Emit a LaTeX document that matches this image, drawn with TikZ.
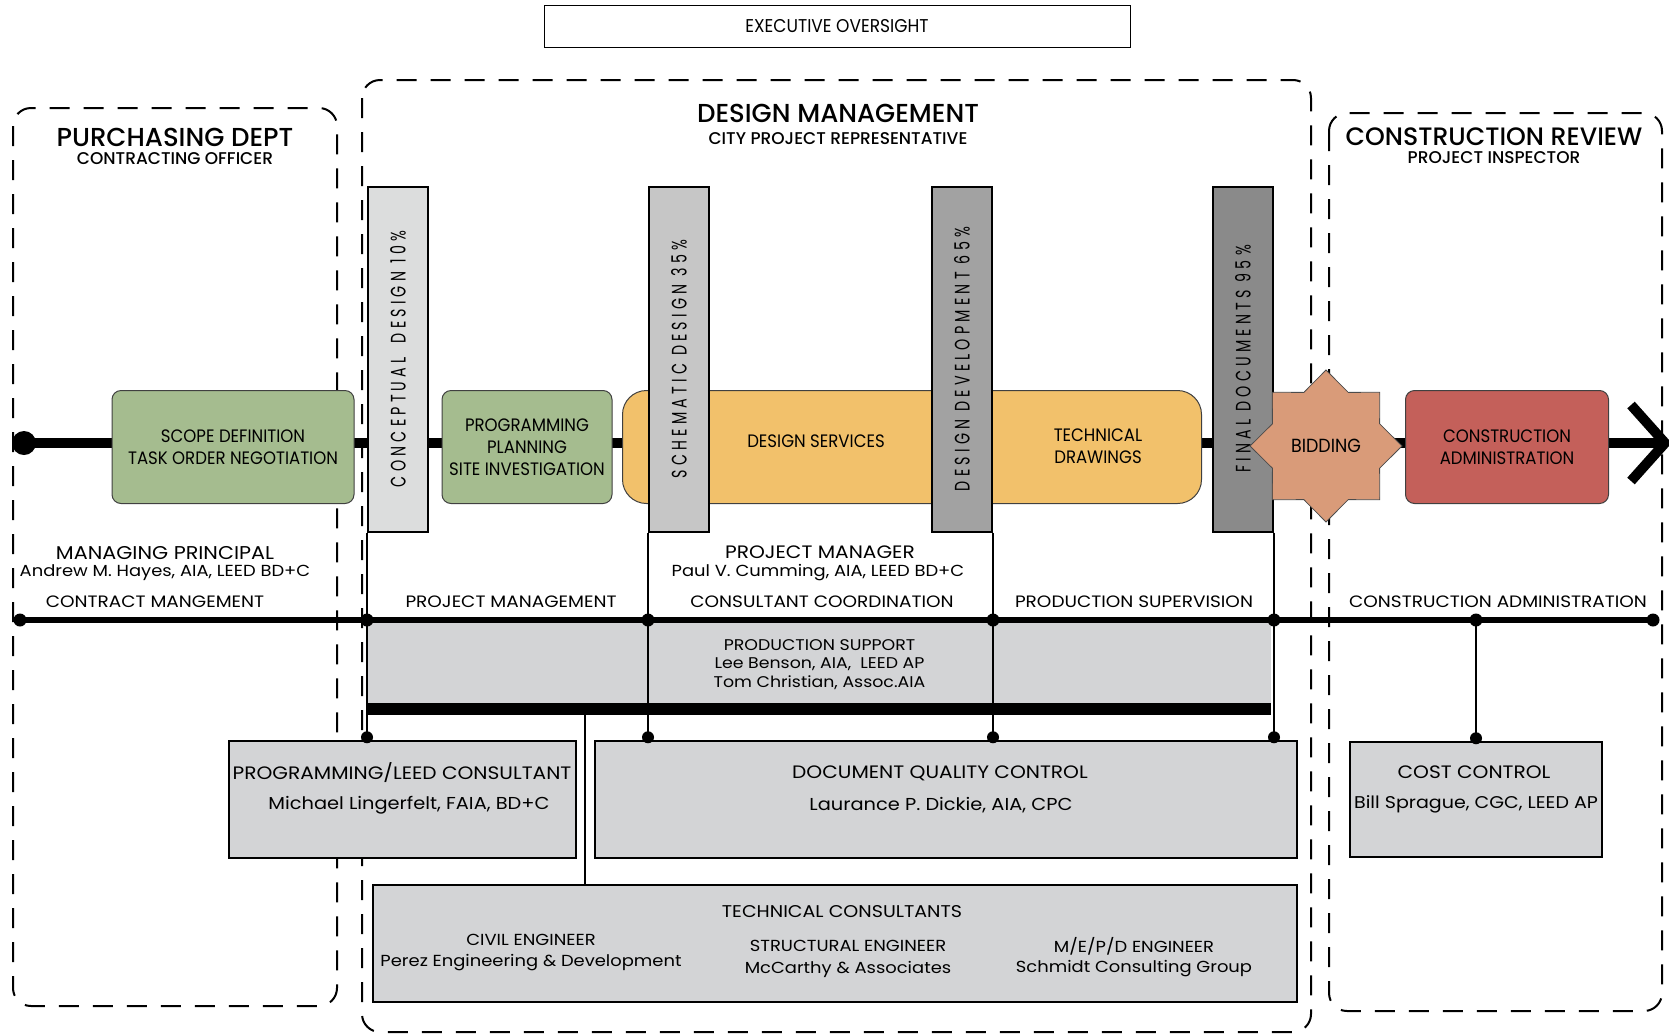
\documentclass[tikz,border=0pt]{standalone}
\usepackage{fontspec}
\setmainfont{Poppins}[FakeStretch=1.12]
\newfontfamily\headfont{Poppins Medium}
\newfontfamily\twfont[FakeStretch=0.92]{Poppins}
\newfontfamily\barfont[FakeStretch=0.68,LetterSpace=20]{Poppins}
\usetikzlibrary{shapes.geometric}

\definecolor{scopegreen}{HTML}{A5BC8F}
\definecolor{designorange}{HTML}{F2C16B}
\definecolor{bidsalmon}{HTML}{D99B79}
\definecolor{caRed}{HTML}{C4605A}
\definecolor{supportgray}{HTML}{D3D4D6}
\definecolor{barA}{HTML}{DCDDDD}
\definecolor{barB}{HTML}{C6C6C6}
\definecolor{barC}{HTML}{A2A2A2}
\definecolor{barD}{HTML}{8A8A8A}

\tikzset{
  region/.style={dash pattern=on 20pt off 14pt, line width=2pt, rounded corners=18pt},
  head/.style={inner sep=0pt, font=\headfont\fontsize{26}{30}\selectfont},
  sub/.style={inner sep=0pt, font=\headfont\fontsize{17}{20}\selectfont},
  phasetext/.style={inner sep=0pt, align=center, font=\twfont\fontsize{18}{22}\selectfont},
  phase/.style={phasetext, draw=black!75, line width=1pt, rounded corners=9pt,
    minimum height=113pt},
  milestone/.style={draw, line width=2pt, inner sep=0pt, minimum width=60pt, minimum height=345pt},
  bartext/.style={rotate=90, inner sep=0pt, font=\barfont\fontsize{21}{24}\selectfont},
  role/.style={inner sep=0pt, align=center, font=\fontsize{18}{21}\selectfont},
  person/.style={inner sep=0pt, align=center, font=\fontsize{16}{19}\selectfont},
  duty/.style={inner sep=0pt, font=\fontsize{16.5}{19}\selectfont},
  staff/.style={draw, fill=supportgray, line width=1.5pt, inner sep=0pt},
  conn/.style={line width=2pt},
}

\begin{document}
\begin{tikzpicture}[x=1pt,y=-1pt,line cap=butt]
        % page size of the reference
        \useasboundingbox (0,0) rectangle (1669,1034);

        % dashed departments
        \draw[region] (13,108) rectangle (337,1006);
        \draw[region] (362,80) rectangle (1311,1032);
        \draw[region] (1329,113) rectangle (1662,1011);

        % executive oversight
        \node[draw, line width=1pt, minimum width=586pt, minimum height=42pt,
              font=\twfont\fontsize{18.5}{22}\selectfont] (exec) at (837,26) {EXECUTIVE OVERSIGHT};

        % department titles
        \node[head] (dmtitle) at (838,113) {DESIGN MANAGEMENT};
        \node[sub] (dmsub) at (838,139) {CITY PROJECT REPRESENTATIVE};
        \node[head] (pdtitle) at (175,137) {PURCHASING DEPT};
        \node[sub] (pdsub) at (175,159) {CONTRACTING OFFICER};
        \node[head, font=\headfont\fontsize{25.2}{30}\selectfont] (crtitle) at (1494,137) {CONSTRUCTION REVIEW};
        \node[sub] (crsub) at (1494,158) {PROJECT INSPECTOR};

        % main process line
        \coordinate (start) at (24,443);
        \coordinate (tip) at (1665,443);
        \draw[line width=10pt] (start) -- (tip);
        \fill (start) circle (12pt);
        \draw[line width=10pt] ([shift={(-34,-38)}]tip) -- (tip) -- ([shift={(-34,38)}]tip);

        % process boxes
        \node[phase, fill=scopegreen, minimum width=242pt] (scope) at (233,447)
            {SCOPE DEFINITION\\TASK ORDER NEGOTIATION};
        \node[phase, fill=scopegreen, minimum width=170pt] (prog) at (527,447)
            {PROGRAMMING\\PLANNING\\SITE INVESTIGATION};
        \node[phase, fill=designorange, rounded corners=24pt, minimum width=579pt] (design) at (912,447) {};
        \node[phasetext] (services) at (816,441) {DESIGN SERVICES};
        \node[phasetext] (drawings) at (1098,446) {TECHNICAL\\DRAWINGS};
        \node[phase, fill=caRed, minimum width=203pt] (ca) at (1507,447)
            {CONSTRUCTION\\ADMINISTRATION};

        % milestone bars
        \foreach \name/\x/\shade/\txt in {
            concept/398/barA/{CONCEPTUAL\hspace{14pt}DESIGN\hspace{8pt}10\%},
            schem/679/barB/{SCHEMATIC\hspace{8pt}DESIGN\hspace{8pt}35\%},
            devel/962/barC/{DESIGN\hspace{8pt}DEVELOPMENT\hspace{8pt}65\%},
            final/1243/barD/{FINAL\hspace{8pt}DOCUMENTS\hspace{8pt}95\%}} {
                \node[milestone, fill=\shade] (\name) at (\x,359) {};
                \node[bartext] at (\name) {\txt};
        }

        % bidding
        \node[star, star points=8, star point ratio=1.31, minimum size=152pt, inner sep=0pt,
              fill=bidsalmon, draw=black!70, line width=0.8pt,
              font=\twfont\fontsize{19}{22}\selectfont] (bid) at (1326,446) {BIDDING};

        % people under the process
        \node[role, font=\fontsize{18.5}{21}\selectfont] (principal) at (165,553) {MANAGING PRINCIPAL};
        \node[person] (hayes) at (165,573) {Andrew M. Hayes, AIA, LEED BD+C};
        \node[role] (manager) at (820,552) {PROJECT MANAGER};
        \node[person] (cumming) at (818,573) {Paul V. Cumming, AIA, LEED BD+C};
        \foreach \x/\dutytext in {
            155/CONTRACT MANGEMENT,
            511/PROJECT MANAGEMENT,
            822/CONSULTANT COORDINATION,
            1134/PRODUCTION SUPERVISION,
            1498/CONSTRUCTION ADMINISTRATION}
                \node[duty] at (\x,602) {\dutytext};

        % production support
        \node[fill=supportgray, minimum width=903pt, minimum height=89pt, inner sep=0pt,
              align=center, font=\fontsize{15.5}{18.5}\selectfont] (support) at (819.5,664.5)
            {PRODUCTION SUPPORT\\Lee Benson, AIA,\ \ LEED AP\\Tom Christian, Assoc.AIA};
        \draw[line width=12pt] (support.south west) -- (support.south east);

        % staff boxes
        \node[staff, minimum width=347pt, minimum height=117pt] (plc) at (402.5,799.5) {};
        \node[staff, minimum width=702pt, minimum height=117pt] (dqc) at (946,799.5) {};
        \node[staff, minimum width=252pt, minimum height=115pt] (cost) at (1476,799.5) {};
        \node[staff, minimum width=924pt, minimum height=117pt] (tech) at (835,943.5) {};

        \node[role] at (402,773) {PROGRAMMING/LEED CONSULTANT};
        \node[person, font=\fontsize{17.3}{20}\selectfont] at (409,805) {Michael Lingerfelt, FAIA, BD+C};
        \node[role] at (940,773) {DOCUMENT QUALITY CONTROL};
        \node[person, font=\fontsize{17.3}{20}\selectfont] at (941,805) {Laurance P. Dickie, AIA, CPC};
        \node[role] at (1474,772) {COST CONTROL};
        \node[person, font=\fontsize{17}{20}\selectfont] at (1476,804) {Bill Sprague, CGC, LEED AP};
        \node[role, font=\fontsize{17}{20}\selectfont] at (842,912) {TECHNICAL CONSULTANTS};
        \foreach \x/\y/\eng/\firm in {
            531/940/CIVIL ENGINEER/Perez Engineering \& Development,
            848/946/STRUCTURAL ENGINEER/McCarthy \& Associates,
            1134/946/{M/E/P/D ENGINEER}/Schmidt Consulting Group} {
                \node[person] at (\x,\y) {\eng};
                \node[person] at (\x,\y+23) {\firm};
        }

        % responsibility line
        \coordinate (left end) at (20,620);
        \coordinate (right end) at (1653,620);
        \coordinate (tech feed) at (585,715);
        \draw[line width=6pt] (left end) -- (right end);

        % connectors down to the staff
        \draw[conn] (concept.south west) -- (concept.south west |- plc.north);
        \draw[conn] (schem.south west) -- (schem.south west |- dqc.north);
        \draw[conn] (devel.south east) -- (devel.south east |- dqc.north);
        \draw[conn] (final.south east) -- (final.south east |- dqc.north);
        \draw[conn] (cost.north |- right end) -- (cost.north);
        \draw[conn] (tech feed) -- (tech feed |- tech.north);

        % dots
        \foreach \p in {left end, right end, concept.south west |- left end, schem.south west |- left end,
            devel.south east |- left end, final.south east |- left end, cost.north |- left end}
                \fill (\p) circle (6.5pt);
        \foreach \p in {concept.south west |- plc.north, schem.south west |- dqc.north,
            devel.south east |- dqc.north, final.south east |- dqc.north, cost.north}
                \fill ([yshift=3pt]\p) circle (6pt);
\end{tikzpicture}
\end{document}
